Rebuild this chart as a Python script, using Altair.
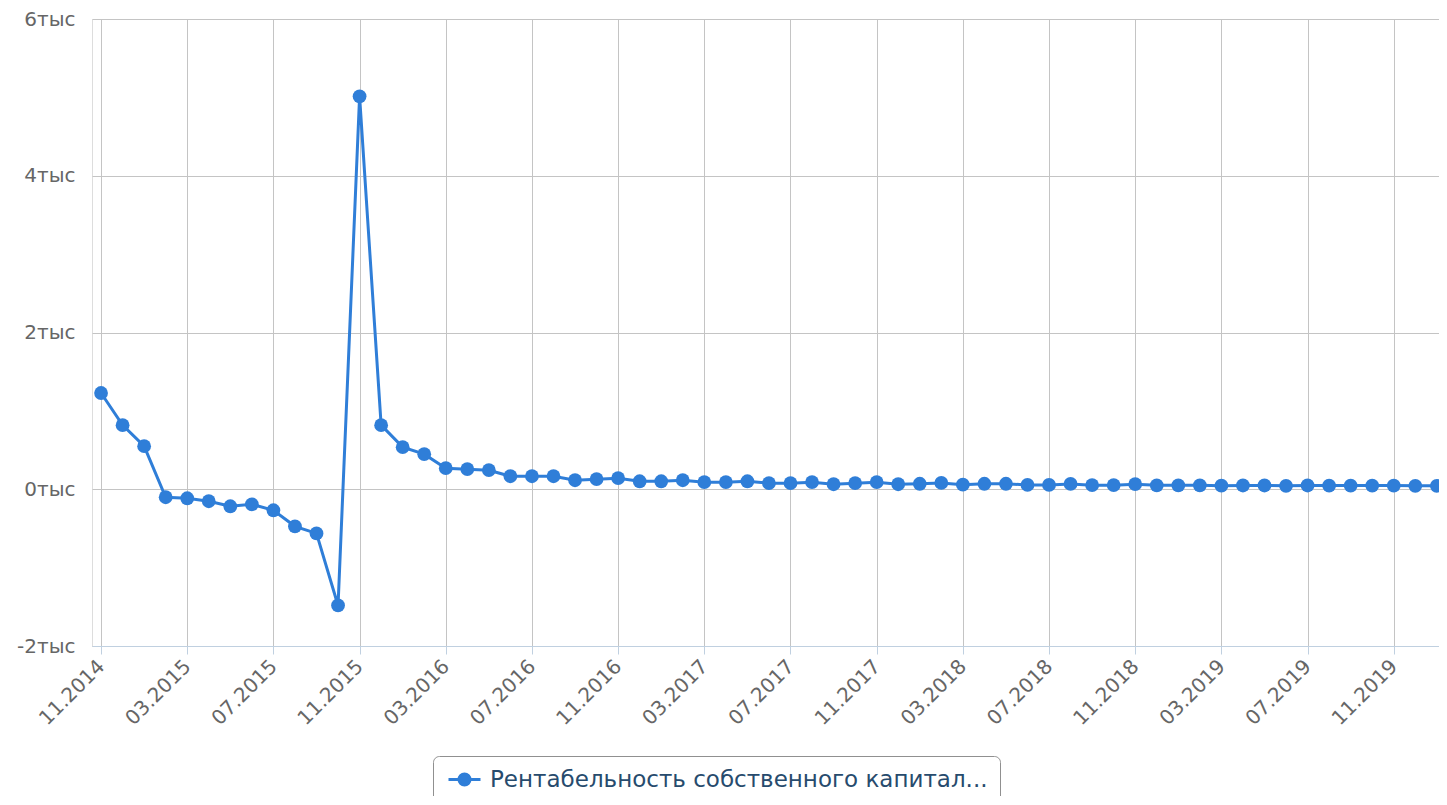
import altair as alt
import pandas as pd

months = [
    "11.2014", "12.2014", "01.2015", "02.2015", "03.2015", "04.2015", "05.2015", "06.2015",
    "07.2015", "08.2015", "09.2015", "10.2015", "11.2015", "12.2015", "01.2016", "02.2016",
    "03.2016", "04.2016", "05.2016", "06.2016", "07.2016", "08.2016", "09.2016", "10.2016",
    "11.2016", "12.2016", "01.2017", "02.2017", "03.2017", "04.2017", "05.2017", "06.2017",
    "07.2017", "08.2017", "09.2017", "10.2017", "11.2017", "12.2017", "01.2018", "02.2018",
    "03.2018", "04.2018", "05.2018", "06.2018", "07.2018", "08.2018", "09.2018", "10.2018",
    "11.2018", "12.2018", "01.2019", "02.2019", "03.2019", "04.2019", "05.2019", "06.2019",
    "07.2019", "08.2019", "09.2019", "10.2019", "11.2019", "12.2019", "01.2020",
]
values = [
    1228, 818, 550, -102, -115, -153, -217, -192,
    -268, -473, -563, -1483, 5013, 818, 537, 448,
    269, 256, 243, 166, 166, 166, 115, 128,
    141, 102, 102, 115, 90, 90, 102, 77,
    77, 90, 64, 77, 90, 64, 70, 80,
    58, 70, 70, 55, 55, 68, 52, 52,
    65, 50, 50, 50, 45, 48, 48, 44,
    48, 47, 47, 47, 47, 44, 44,
]
series_name = "Рентабельность собственного капитал..."
y_ticks = [-2000, 0, 2000, 4000, 6000]

df = pd.DataFrame({"idx": list(range(len(months))), "month": months, "value": values, "series": series_name})
tick_idx = list(range(0, len(months) - 2, 4))
label_arr = "[" + ",".join("'" + months[i] + "'" for i in tick_idx) + "]"

FONT = "DejaVu Sans"
BLUE = "#2f7ed8"

x_enc = alt.X("idx:Q", scale=alt.Scale(domain=[-0.42, 62.1], nice=False, zero=False),
              axis=alt.Axis(values=tick_idx, labelExpr=label_arr + "[datum.value/4]", title=None,
                            labelAngle=-45, labelAlign="right", labelBaseline="middle",
                            labelFontSize=20, labelColor="#666666", labelFont=FONT,
                            domainColor="#c0d0e0", tickColor="#c0d0e0", tickSize=8,
                            gridColor="#c4c4c4", labelPadding=9, labelOverlap=False))
y_enc = alt.Y("value:Q", scale=alt.Scale(domain=[-2000, 6000], nice=False),
              axis=alt.Axis(values=y_ticks, labelExpr="(datum.value/1000) + 'тыс'", title=None,
                            labelFontSize=20, labelColor="#666666", labelFont=FONT, ticks=False,
                            domain=False, gridColor="#c4c4c4", labelPadding=17))
color_enc = alt.Color("series:N", scale=alt.Scale(range=[BLUE]),
                      legend=alt.Legend(title=None, orient="none", legendX=341, legendY=737,
                                        strokeColor="#909090", cornerRadius=6, padding=12,
                                        labelFontSize=23, labelColor="#274b6d", labelFont=FONT,
                                        labelLimit=900, symbolOffset=8, labelOffset=14,
                                        symbolType="M-1.6,0H1.6M0.55,0A0.55,0.55 0 1,1 -0.55,0A0.55,0.55 0 1,1 0.55,0Z",
                                        symbolSize=400, symbolStrokeWidth=3, symbolFillColor=BLUE,
                                        symbolStrokeColor=BLUE))

base = alt.Chart(df)
line = base.mark_line(strokeWidth=3, color=BLUE).encode(x=x_enc, y=y_enc, color=color_enc)
pts = base.mark_circle(size=190, opacity=1, color=BLUE).encode(x="idx:Q", y="value:Q")

chart = (line + pts).properties(
    width=1347, height=627,
    autosize=alt.AutoSizeParams(type="none"),
    padding={"left": 84, "top": 11, "right": 0, "bottom": 150},
).configure_view(stroke=None).configure(font=FONT)

chart.save("out.html", embed_options={"renderer": "svg", "actions": False})
